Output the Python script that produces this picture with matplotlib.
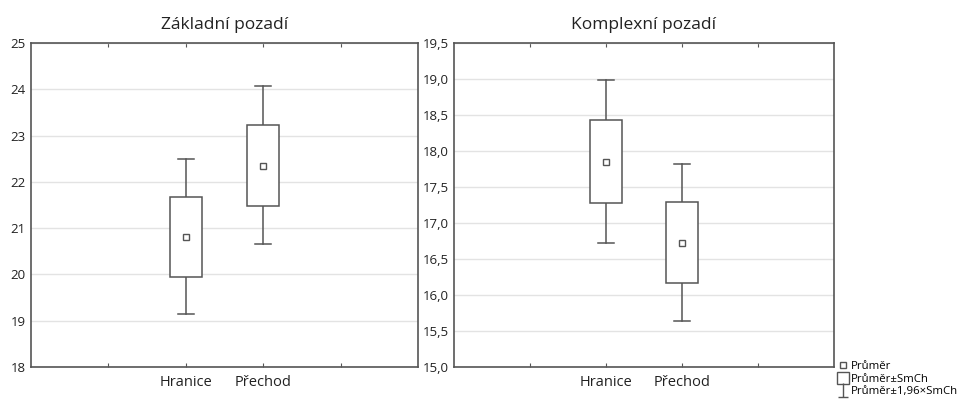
import numpy as np
import matplotlib.pyplot as plt
from matplotlib.ticker import FuncFormatter
from matplotlib.lines import Line2D
from matplotlib.path import Path

plt.rcParams['font.family'] = ['Open Sans', 'DejaVu Sans']

categories = ['Hranice', 'Přechod']

# Základní pozadí
zakl_mean = [20.80, 22.35]
zakl_box_lo = [19.95, 21.48]
zakl_box_hi = [21.68, 23.23]
zakl_wh_lo = [19.15, 20.65]
zakl_wh_hi = [22.50, 24.08]

# Komplexní pozadí
komp_mean = [17.85, 16.72]
komp_box_lo = [17.28, 16.17]
komp_box_hi = [18.43, 17.29]
komp_wh_lo = [16.72, 15.64]
komp_wh_hi = [18.99, 17.82]

edge = '#555555'


def draw_panel(ax, title, mean, blo, bhi, wlo, whi, ylim, yticks, fmt):
    xs = [2, 3]
    bw = 0.41
    cw = 0.2
    for x, m, b0, b1, w0, w1 in zip(xs, mean, blo, bhi, wlo, whi):
        ax.add_patch(plt.Rectangle((x - bw / 2, b0), bw, b1 - b0, fill=True,
                                   facecolor='white', edgecolor=edge, lw=1.1, zorder=3))
        ax.plot([x, x], [b1, w1], color=edge, lw=1.1, zorder=2)
        ax.plot([x, x], [w0, b0], color=edge, lw=1.1, zorder=2)
        ax.plot([x - cw / 2, x + cw / 2], [w1, w1], color=edge, lw=1.1, zorder=2)
        ax.plot([x - cw / 2, x + cw / 2], [w0, w0], color=edge, lw=1.1, zorder=2)
        ax.plot([x], [m], marker='s', ms=4, mfc='white', mec=edge, mew=1, zorder=4)
    ax.set_xlim(0, 5)
    ax.set_ylim(*ylim)
    ax.set_yticks(yticks)
    ax.yaxis.set_major_formatter(FuncFormatter(fmt))
    ax.set_xticks([1, 2, 3, 4])
    ax.set_xticklabels(['', categories[0], categories[1], ''])
    ax.tick_params(axis='x', direction='in', length=3, top=True, color=edge,
                   labelsize=10.5, pad=6, labelcolor='#222222')
    ax.tick_params(axis='y', length=0, labelsize=9.5, pad=4, labelcolor='#222222')
    ax.grid(axis='y', color='#e3e3e3', lw=1)
    ax.set_axisbelow(True)
    for s in ax.spines.values():
        s.set_color(edge)
        s.set_linewidth(1.2)
    ax.set_title(title, fontsize=12.5, pad=10, color='#222222')


fig = plt.figure(figsize=(9.64, 4.01), dpi=100)
ax1 = fig.add_axes([31 / 964, 1 - 367 / 401, 387 / 964, 324 / 401])
ax2 = fig.add_axes([454 / 964, 1 - 367 / 401, 380 / 964, 324 / 401])

draw_panel(ax1, 'Základní pozadí', zakl_mean, zakl_box_lo, zakl_box_hi,
           zakl_wh_lo, zakl_wh_hi, (18, 25), np.arange(18, 26, 1),
           lambda v, p: f'{v:.0f}')
draw_panel(ax2, 'Komplexní pozadí', komp_mean, komp_box_lo, komp_box_hi,
           komp_wh_lo, komp_wh_hi, (15, 19.5), np.arange(15, 19.51, 0.5),
           lambda v, p: f'{v:.1f}'.replace('.', ','))

whisker_marker = Path([(0, 1), (0, -1), (-0.7, -1), (0.7, -1)],
                      [Path.MOVETO, Path.LINETO, Path.MOVETO, Path.LINETO])
handles = [
    Line2D([], [], marker='s', ms=4, mfc='white', mec=edge, ls='none'),
    Line2D([], [], marker='s', ms=9, mfc='white', mec=edge, ls='none'),
    Line2D([], [], marker=whisker_marker, ms=10, mew=1, mec=edge, ls='none'),
]
fig.legend(handles, ['Průměr', 'Průměr±SmCh', 'Průměr±1,96×SmCh'],
           loc='lower left', bbox_to_anchor=(837 / 964, 0.008), frameon=False,
           fontsize=8.2, handlelength=0.8, handletextpad=0.3, labelspacing=0.1,
           borderpad=0.1, borderaxespad=0.0)

fig.savefig('out.png', dpi=100)
